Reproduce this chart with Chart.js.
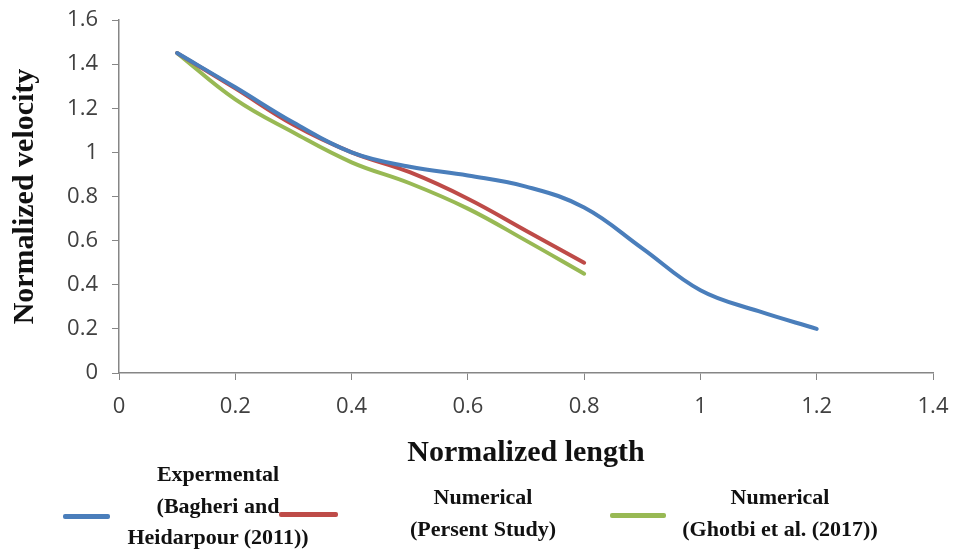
<!DOCTYPE html>
<html>
<head>
<meta charset="utf-8">
<script src="https://cdn.jsdelivr.net/npm/chart.js@4.4.1/dist/chart.umd.min.js"></script>
<style>
  html, body { margin: 0; padding: 0; background: #fff; }
  #wrap { position: relative; width: 954px; height: 549px; }
  canvas { position: absolute; left: 0; top: 0; }
  .leg { position: absolute; font-family: "Liberation Serif", "DejaVu Serif", serif; font-weight: bold;
         font-size: 22px; line-height: 31.5px; color: #111; text-align: center; white-space: nowrap; }
  .sw { position: absolute; height: 5px; border-radius: 2px; }
</style>
</head>
<body>
<div id="wrap">
  <canvas id="chart" width="954" height="549"></canvas>
  <div class="sw" style="left:63px;top:514px;width:47px;background:#4A7EBB"></div>
  <div class="leg" style="left:118px;top:458px;width:200px">Expermental<br>(Bagheri and<br>Heidarpour (2011))</div>
  <div class="sw" style="left:279px;top:512px;width:59px;background:#BE4B48"></div>
  <div class="leg" style="left:383px;top:481px;width:200px">Numerical<br>(Persent Study)</div>
  <div class="sw" style="left:610px;top:513px;width:56px;background:#98B954"></div>
  <div class="leg" style="left:660px;top:481px;width:240px">Numerical<br>(Ghotbi et al. (2017))</div>
</div>
<script>
// data
const lengthExp = [0.1, 0.2, 0.3, 0.4, 0.5, 0.6, 0.7, 0.8, 0.9, 1.0, 1.1, 1.2];
const velExp = [1.45, 1.295, 1.135, 1.00, 0.935, 0.895, 0.845, 0.75, 0.565, 0.375, 0.28, 0.20];

const lengthNum = [0.1, 0.2, 0.3, 0.4, 0.5, 0.6, 0.7, 0.8];
const velPresent = [1.45, 1.29, 1.125, 1.0, 0.91, 0.79, 0.645, 0.50];
const velGhotbi = [1.45, 1.24, 1.09, 0.955, 0.86, 0.745, 0.60, 0.45];

const xTickLabels = ['0', '0.2', '0.4', '0.6', '0.8', '1', '1.2', '1.4'];
const yTickLabels = ['0', '0.2', '0.4', '0.6', '0.8', '1', '1.2', '1.4', '1.6'];

const seriesNames = ['Expermental (Bagheri and Heidarpour (2011))', 'Numerical (Persent Study)', 'Numerical (Ghotbi et al. (2017))'];
const seriesColors = ['#4A7EBB', '#BE4B48', '#98B954'];

function toPoints(xs, ys) {
    return xs.map((x, i) => ({ x: x, y: ys[i] }));
}

const axisColor = '#868686';
const tickFont = { family: 'Open Sans', size: 22 };
const titleFont = { family: 'Liberation Serif', size: 30, weight: 'bold' };

new Chart(document.getElementById('chart'), {
    type: 'scatter',
    data: {
        datasets: [
            { label: seriesNames[0], data: toPoints(lengthExp, velExp), borderColor: seriesColors[0] },
            { label: seriesNames[1], data: toPoints(lengthNum, velPresent), borderColor: seriesColors[1] },
            { label: seriesNames[2], data: toPoints(lengthNum, velGhotbi), borderColor: seriesColors[2] }
        ].map(d => Object.assign(d, {
            showLine: true, borderWidth: 4, pointRadius: 0, tension: 0.4,
            backgroundColor: d.borderColor, borderCapStyle: 'round'
        }))
    },
    options: {
        responsive: false,
        animation: false,
        layout: { padding: { left: 7, right: 21, top: 20, bottom: 78 } },
        plugins: { legend: { display: false }, tooltip: { enabled: false } },
        scales: {
            x: {
                type: 'linear', min: 0, max: 1.4,
                afterFit: s => { s.height = 98; s.paddingLeft = 0; s.paddingRight = 0; },
                ticks: { stepSize: 0.2, color: '#404040', font: tickFont, padding: 14, maxRotation: 0,
                         callback: (v, i) => xTickLabels[i] },
                grid: { drawOnChartArea: false, color: axisColor, tickLength: 7 },
                border: { color: axisColor, width: 1.5 },
                title: { display: true, text: 'Normalized length', color: '#111', font: titleFont, padding: 0 }
            },
            y: {
                min: 0, max: 1.6,
                afterFit: s => { s.width = 112; s.paddingTop = 0; s.paddingBottom = 0; },
                ticks: { stepSize: 0.2, color: '#404040', font: tickFont, padding: 14,
                         callback: (v, i) => yTickLabels[i] },
                grid: { drawOnChartArea: false, color: axisColor, tickLength: 7 },
                border: { color: axisColor, width: 1.5 },
                title: { display: true, text: 'Normalized velocity', color: '#111', font: titleFont, padding: 0 }
            }
        }
    }
});
</script>
</body>
</html>
